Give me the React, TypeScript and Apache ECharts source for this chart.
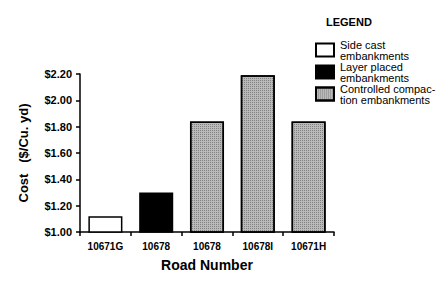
import React, { useEffect, useRef } from "react";
import * as echarts from "echarts";

const categories = ["10671G", "10678", "10678", "10678I", "10671H"];
const sideCast = [1.12, "-", "-", "-", "-"];
const layerPlaced = ["-", 1.3, "-", "-", "-"];
const controlled = ["-", "-", 1.84, 2.19, 1.84];
const seriesNames = [
  "Side cast\nembankments",
  "Layer placed\nembankments",
  "Controlled compac-\ntion embankments",
];

export default function App() {
  const ref = useRef<HTMLDivElement>(null);
  useEffect(() => {
    const chart = echarts.init(ref.current!, null, { renderer: "svg" });
    const font = "'Liberation Sans', Arial, sans-serif";
    const barBase = {
      type: "bar",
      barGap: "-100%",
      barCategoryGap: "33%",
    };
    chart.setOption({
      animation: false,
      backgroundColor: "#fff",
      title: {
        text: "LEGEND",
        left: 326,
        top: 16,
        padding: 0,
        textStyle: { fontFamily: font, fontSize: 11, fontWeight: "bold", color: "#000" },
      },
      legend: {
        orient: "vertical",
        left: 315,
        top: 39,
        padding: 0,
        itemWidth: 18,
        itemHeight: 13,
        itemGap: 0,
        icon: "rect",
        data: seriesNames,
        textStyle: { fontFamily: font, fontSize: 11, lineHeight: 11, color: "#000", padding: [0, 0, 0, 1] },
      },
      grid: { left: 80, right: 112, top: 74, bottom: 49 },
      xAxis: {
        type: "category",
        data: categories,
        name: "Road Number",
        nameLocation: "middle",
        nameGap: 26,
        nameTextStyle: { fontFamily: font, fontSize: 14, fontWeight: "bold", color: "#000" },
        axisLine: { lineStyle: { color: "#000", width: 1.5 } },
        axisTick: { show: true, length: 4, lineStyle: { color: "#000", width: 1.5 } },
        axisLabel: { fontFamily: font, fontSize: 10, fontWeight: "bold", color: "#000", margin: 9 },
      },
      yAxis: {
        type: "value",
        min: 1,
        max: 2.2,
        interval: 0.2,
        name: "Cost   ($/Cu. yd)",
        nameLocation: "middle",
        nameGap: 50,
        nameTextStyle: { fontFamily: font, fontSize: 13, fontWeight: "bold", color: "#000" },
        splitLine: { show: false },
        axisLine: { show: true, lineStyle: { color: "#000", width: 1.5 } },
        axisTick: { show: true, length: 4, lineStyle: { color: "#000", width: 1.5 } },
        axisLabel: {
          fontFamily: font,
          fontSize: 11,
          fontWeight: "bold",
          color: "#000",
          margin: 8,
          formatter: (v: number) => "$" + v.toFixed(2),
        },
      },
      series: [
        {
          ...barBase,
          name: seriesNames[0],
          data: sideCast,
          itemStyle: { color: "#fff", borderColor: "#000", borderWidth: 1.5 },
        },
        {
          ...barBase,
          name: seriesNames[1],
          data: layerPlaced,
          itemStyle: { color: "#000", borderColor: "#000", borderWidth: 1.5 },
        },
        {
          ...barBase,
          name: seriesNames[2],
          data: controlled,
          itemStyle: {
            color: "#bababa",
            borderColor: "#000",
            borderWidth: 1.5,
            decal: {
              symbol: "rect",
              symbolSize: 1,
              color: "rgba(0,0,0,0.3)",
              dashArrayX: [1, 1],
              dashArrayY: [1, 1],
              rotation: 0,
            },
          },
        },
      ],
    });
    return () => chart.dispose();
  }, []);
  return <div ref={ref} style={{ width: 446, height: 281, marginLeft: -8, marginTop: -8 }} />;
}
